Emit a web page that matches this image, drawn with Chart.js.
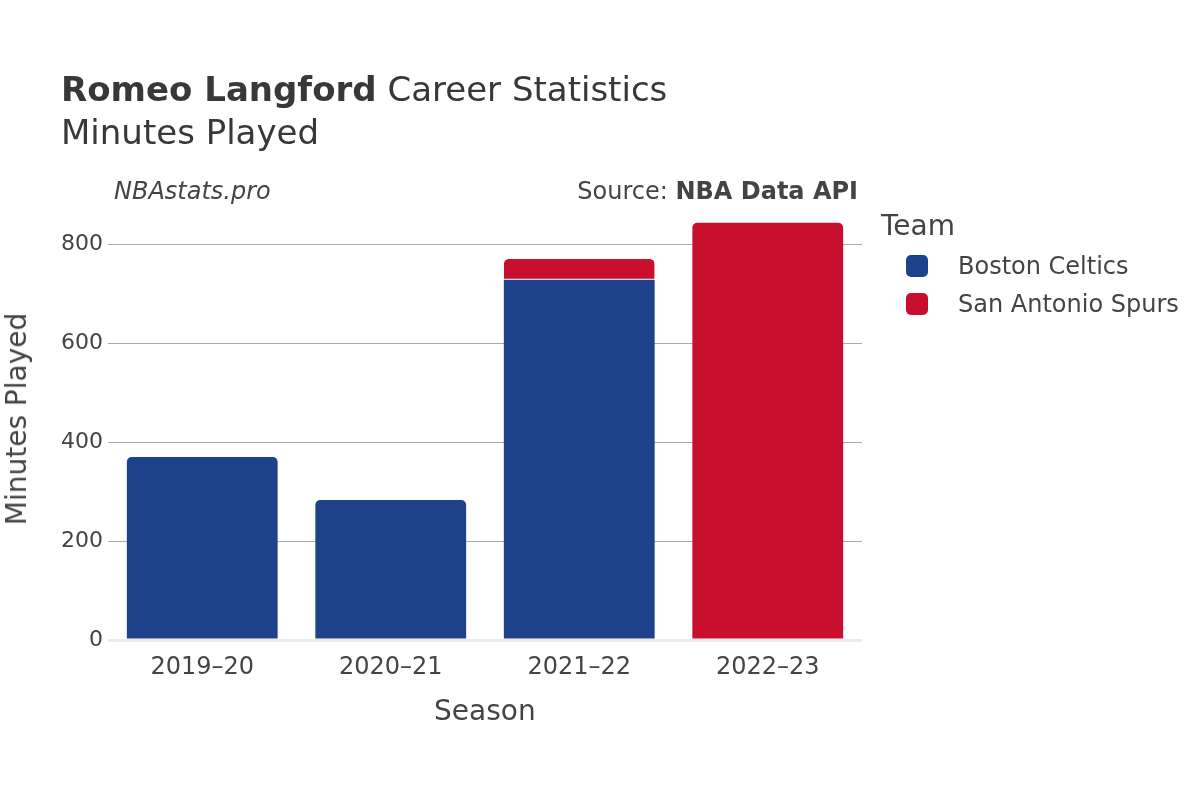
<!DOCTYPE html>
<html>
<head>
<meta charset="utf-8">
<script src="https://cdn.jsdelivr.net/npm/chart.js@4/dist/chart.umd.min.js"></script>
<style>
  html, body { margin:0; padding:0; background:#fff; }
  #wrap { position:relative; width:1200px; height:800px; font-family:"DejaVu Sans", sans-serif; color:#444; }
  canvas { position:absolute; left:0; top:0; }
  .t { position:absolute; white-space:nowrap; line-height:1; }
  .sw { position:absolute; width:22px; height:22px; border-radius:5px; }
</style>
</head>
<body>
<div id="wrap">
  <canvas id="c" width="1200" height="800"></canvas>
  <div class="t" style="left:61px; top:72px; font-size:34px; color:#383838;"><b>Romeo Langford</b> Career Statistics</div>
  <div class="t" style="left:61px; top:115px; font-size:34px; color:#383838;">Minutes Played</div>
  <div class="t" style="left:114px; top:179px; font-size:24px; font-style:italic;">NBAstats.pro</div>
  <div class="t" style="right:342px; top:179px; font-size:24px;">Source: <b>NBA Data API</b></div>
  <div class="t" style="left:434px; top:697px; font-size:28px;">Season</div>
  <div class="t" style="left:17px; top:419px; font-size:28px; transform:translate(-50%,-50%) rotate(-90deg);">Minutes Played</div>
  <div id="legend"></div>
</div>
<script>
const seasons = ["2019\u201320", "2020\u201321", "2021\u201322", "2022\u201323"];
const teams = ["Boston Celtics", "San Antonio Spurs"];
const teamColors = ["#1D428A", "#C8102E"];
const celticsMinutes = [370, 283, 728, null];
const spursMinutes = [null, null, 42, 843];
const yTicks = [0, 200, 400, 600, 800];

const seriesValues = [celticsMinutes, spursMinutes];

function isTop(dsIndex, i) {
  for (let k = dsIndex + 1; k < seriesValues.length; k++) {
    if (seriesValues[k][i]) return false;
  }
  return true;
}
function hasBelow(dsIndex, i) {
  for (let k = 0; k < dsIndex; k++) {
    if (seriesValues[k][i]) return true;
  }
  return false;
}

const datasets = teams.map((name, d) => ({
  label: name,
  data: seriesValues[d],
  backgroundColor: teamColors[d],
  borderColor: "#ffffff",
  borderWidth: ctx => hasBelow(d, ctx.dataIndex) ? {top:0, left:0, right:0, bottom:1} : 0,
  borderSkipped: false,
  borderRadius: ctx => isTop(d, ctx.dataIndex) ? {topLeft:5, topRight:5, bottomLeft:0, bottomRight:0} : 0,
  categoryPercentage: 0.8,
  barPercentage: 1.0
}));

new Chart(document.getElementById("c"), {
  type: "bar",
  data: { labels: seasons, datasets },
  options: {
    responsive: false,
    animation: false,
    layout: { padding: { left: 0, right: 338, top: 201, bottom: 120 } },
    plugins: { legend: { display: false }, tooltip: { enabled: false } },
    scales: {
      x: {
        stacked: true,
        grid: { display: false },
        border: { display: false },
        ticks: { color: "#444", font: { family: "DejaVu Sans", size: 24 }, padding: 5 },
        afterFit: s => { s.height = 40; }
      },
      y: {
        stacked: true,
        min: 0,
        max: 887,
        afterBuildTicks: axis => { axis.ticks = yTicks.map(v => ({ value: v })); },
        grid: {
          drawTicks: false,
          color: ctx => ctx.tick && ctx.tick.value === 0 ? "#ebebeb" : "#aaaaaa",
          lineWidth: ctx => ctx.tick && ctx.tick.value === 0 ? 3 : 1
        },
        border: { display: false },
        ticks: { color: "#444", font: { family: "DejaVu Sans", size: 22 }, padding: 5 },
        afterFit: s => { s.width = 108; }
      }
    }
  }
});

const legend = document.getElementById("legend");
let html = '<div class="t" style="left:881px; top:212px; font-size:28px;">Team</div>';
teams.forEach((name, i) => {
  const cy = 266 + i * 38;
  html += `<div class="sw" style="left:906px; top:${cy - 11}px; background:${teamColors[i]}"></div>`;
  html += `<div class="t" style="left:958px; top:${cy - 12}px; font-size:24px;">${name}</div>`;
});
legend.innerHTML = html;
</script>
</body>
</html>
